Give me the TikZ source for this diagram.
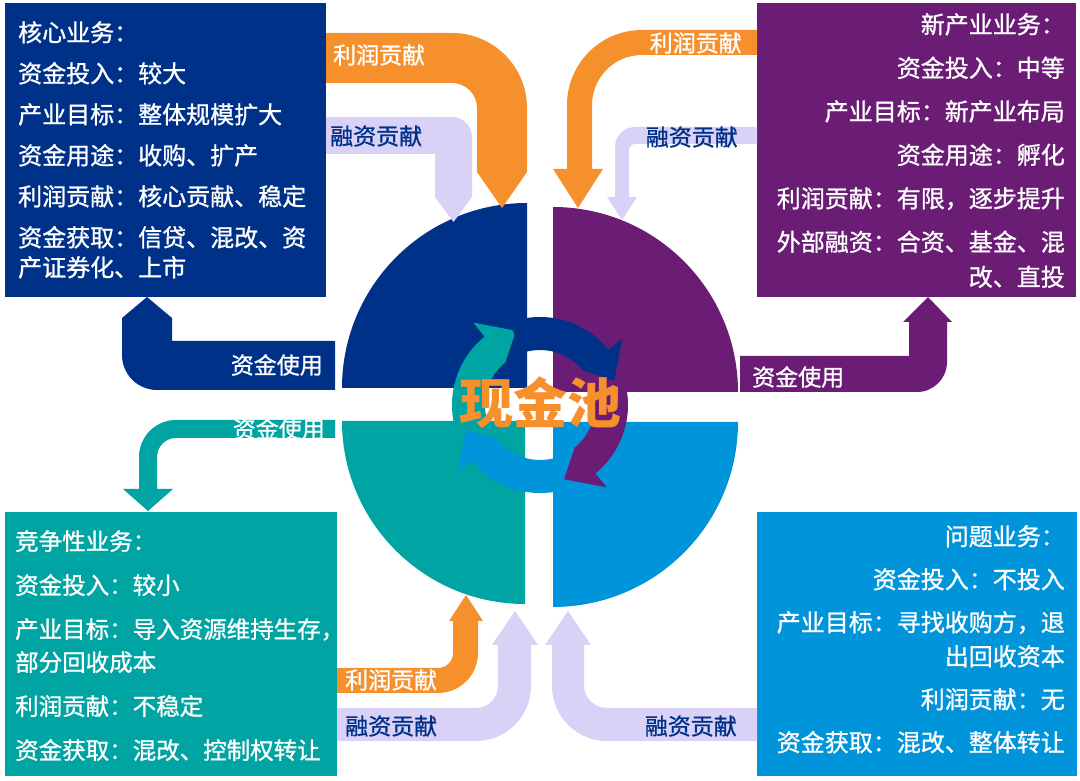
\documentclass[tikz,border=0pt]{standalone}
\usepackage{fontspec}
\usepackage{xcolor}
\usepackage{tikz}
\usetikzlibrary{positioning}
\newfontfamily\cjk{Noto Sans CJK SC}
\newfontfamily\cjkmid{Noto Sans CJK SC}[FakeBold=1]
\definecolor{CoreNavy}{HTML}{003189}
\definecolor{NewPurple}{HTML}{6B1C74}
\definecolor{CompeteTeal}{HTML}{00A4A2}
\definecolor{ProblemBlue}{HTML}{0094DA}
\definecolor{ProfitOrange}{HTML}{F6902D}
\definecolor{FinanceLav}{HTML}{D9D1F6}

\begin{document}
\begin{tikzpicture}[x=1pt,y=1pt]
  \path[use as bounding box] (0,0) rectangle (1080,780);
  \tikzset{
    cpBox/.style={
      anchor=south west, inner sep=0pt, outer sep=0pt
    },
    cpText/.style={
      inner sep=0pt, text=white,
      font=\cjkmid\fontsize{24}{30}\selectfont
    },
    cpFlowText/.style={
      inner sep=0pt, font=\cjkmid\fontsize{23}{23}\selectfont
    },
    cpPool/.style={
      inner sep=0pt, text=ProfitOrange,
      font=\cjk\bfseries\fontsize{54}{54}\selectfont
    }
  }

  \node[cpBox, fill=CoreNavy, minimum width=321pt, minimum height=294pt]
    (core) at (5,483) {};
  \node[cpBox, fill=NewPurple, minimum width=319pt, minimum height=294pt]
    (newbiz) at (757,483) {};
  \node[cpBox, fill=CompeteTeal, minimum width=332pt, minimum height=264pt]
    (compete) at (5,4) {};
  \node[cpBox, fill=ProblemBlue, minimum width=320pt, minimum height=264pt]
    (problem) at (757,4) {};

  \node[cpText, anchor=north west, align=left] (coreText) at (18,759)
    {核心业务：\\[11pt]资金投入：较大\\[11pt]产业目标：整体规模扩大\\[11pt]资金用途：收购、扩产\\[11pt]利润贡献：核心贡献、稳定\\[11pt]资金获取：信贷、混改、资\\产证券化、上市};
  \node[cpText, anchor=north east, align=right] (newbizText) at (1065,767)
    {新产业业务：\\[13.5pt]资金投入：中等\\[13.5pt]产业目标：新产业布局\\[13.5pt]资金用途：孵化\\[13.5pt]利润贡献：有限，逐步提升\\[13.5pt]外部融资：合资、基金、混\\[5pt]改、直投};
  \node[cpText, anchor=north west, align=left,
        font=\cjkmid\fontsize{23.5}{30}\selectfont] (competeText) at (15,250)
    {竞争性业务：\\[14pt]资金投入：较小\\[14pt]产业目标：导入资源维持生存，\\[3pt]部分回收成本\\[14pt]利润贡献：不稳定\\[14pt]资金获取：混改、控制权转让};
  \node[cpText, anchor=north east, align=right] (problemText) at (1065,255)
    {问题业务：\\[13pt]资金投入：不投入\\[13pt]产业目标：寻找收购方，退\\[4pt]出回收资本\\[13pt]利润贡献：无\\[13pt]资金获取：混改、整体转让};

  \fill[CoreNavy] (527,392) -- (342,392) arc[start angle=180,end angle=90,radius=185] -- cycle;
  \fill[NewPurple] (553,388) -- (553,573) arc[start angle=90,end angle=0,radius=185] -- cycle;
  \fill[CompeteTeal] (525,359) -- (525,176) arc[start angle=270,end angle=180,radius=183] -- cycle;
  \fill[ProblemBlue] (553,358) -- (738,358) arc[start angle=0,end angle=-90,radius=185] -- cycle;

  \begin{scope}[shift={(540,375)}]
    \foreach \col/\tail/\base in {CompeteTeal/200/129, ProblemBlue/-70/-141,
                                  NewPurple/20/-51, CoreNavy/110/39}
      \fill[\col] (\tail:88) arc[start angle=\tail,end angle=\base,radius=88]
        -- (\base:106) -- ({\base-21}:78) -- (\base:55)
        arc[start angle=\base,end angle=\tail,radius=55] -- cycle;
  \end{scope}

  \fill[ProfitOrange] (326,747) -- (452,747) arc[start angle=90,end angle=0,radius=75]
    -- (527,608) -- (502,572) -- (477,608) -- (477,672)
    arc[start angle=0,end angle=90,radius=25] -- (326,697) -- cycle;
  \fill[FinanceLav] (326,663) -- (452,663) arc[start angle=90,end angle=0,radius=20]
    -- (472,583) -- (453.5,558) -- (435,583) -- (435,626) -- (326,626) -- cycle;
  \fill[ProfitOrange] (757,750) -- (642,750) arc[start angle=90,end angle=180,radius=75]
    -- (567,611) -- (553,611) -- (578,572) -- (603,611) -- (592,611) -- (592,675)
    arc[start angle=180,end angle=90,radius=50] -- (757,725) -- cycle;
  \fill[FinanceLav] (757,653) -- (635,653) arc[start angle=90,end angle=180,radius=20]
    -- (615,583) -- (607,583) -- (622,560) -- (637,583) -- (629,583) -- (629,630)
    arc[start angle=180,end angle=90,radius=6] -- (757,636) -- cycle;
  \fill[CoreNavy] (335,439) -- (172,439) -- (172,462) -- (147,483) -- (122,462)
    -- (122,425) arc[start angle=180,end angle=270,radius=35] -- (335,390) -- cycle;
  \fill[CompeteTeal] (335,360) -- (176,360) arc[start angle=90,end angle=180,radius=37]
    -- (139,291) -- (123,291) -- (148,269) -- (173,291) -- (157,291) -- (157,323)
    arc[start angle=180,end angle=90,radius=19] -- (335,342) -- cycle;
  \fill[NewPurple] (740,424) -- (909,424) -- (909,458) -- (903,458) -- (928,483)
    -- (952,458) -- (947,458) -- (947,418) arc[start angle=0,end angle=-90,radius=30]
    -- (740,388) -- cycle;
  \fill[ProfitOrange] (337,112) -- (438,112) arc[start angle=-90,end angle=0,radius=15]
    -- (453,159) -- (449,159) -- (466,185) -- (483,159) -- (478,159) -- (478,127)
    arc[start angle=0,end angle=-90,radius=40] -- (337,87) -- cycle;
  \fill[FinanceLav] (337,72) -- (476,72) arc[start angle=-90,end angle=0,radius=22]
    -- (498,135) -- (492,135) -- (515,169) -- (538,135) -- (531,135) -- (531,94)
    arc[start angle=0,end angle=-90,radius=55] -- (337,39) -- cycle;
  \fill[FinanceLav] (757,72) -- (607,72) arc[start angle=270,end angle=180,radius=23]
    -- (584,135) -- (591,135) -- (568,169) -- (545,135) -- (552,135) -- (552,94)
    arc[start angle=180,end angle=270,radius=55] -- (757,39) -- cycle;

  \node[cpFlowText, text=white, anchor=west] (coreProfit) at (333,725) {利润贡献};
  \node[cpFlowText, text=CoreNavy, anchor=west] (coreFinance) at (330,644) {融资贡献};
  \node[cpFlowText, text=white, anchor=east] (newbizProfit) at (742,737) {利润贡献};
  \node[cpFlowText, text=CoreNavy, anchor=east] (newbizFinance) at (738,643) {融资贡献};
  \node[cpFlowText, text=white, anchor=east] (coreUse) at (323,415) {资金使用};
  \node[cpFlowText, text=white, anchor=east] (competeUse) at (325,351) {资金使用};
  \node[cpFlowText, text=white, anchor=west] (newbizUse) at (752,403) {资金使用};
  \node[cpFlowText, text=white, anchor=west] (competeProfit) at (345,100) {利润贡献};
  \node[cpFlowText, text=CoreNavy, anchor=west] (competeFinance) at (345,54) {融资贡献};
  \node[cpFlowText, text=CoreNavy, anchor=east] (problemFinance) at (737,54) {融资贡献};

  \node[cpPool] (pool) at (540,377) {现金池};
\end{tikzpicture}
\end{document}
